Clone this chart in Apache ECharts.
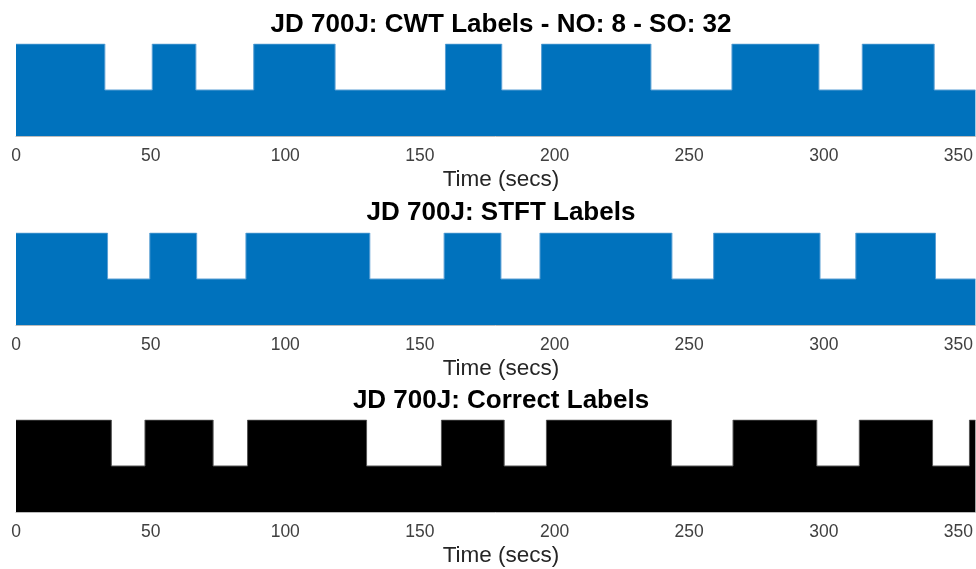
<!DOCTYPE html>
<html>
<head>
<meta charset="utf-8">
<script src="https://cdn.jsdelivr.net/npm/echarts@6/dist/echarts.min.js"></script>
<style>html,body{margin:0;padding:0;background:#fff}#c{width:976px;height:569px}</style>
</head>
<body>
<div id="c"></div>
<script>
// ---- data ----
const xMin = 0;
const xMax = 356.3;   // visible part of the time axis (axis runs past the right edge)
const xTickInterval = 50;
const titles = ["JD 700J: CWT Labels - NO: 8 - SO: 32", "JD 700J: STFT Labels", "JD 700J: Correct Labels"];
const xAxisName = "Time (secs)";
const cwtEdges = [0, 33.0, 50.6, 66.8, 88.3, 118.5, 159.5, 180.4, 195.2, 235.8, 265.9, 298.2, 314.3, 341.0];
const cwtLevels = [2, 1, 2, 1, 2, 1, 2, 1, 2, 1, 2, 1, 2, 1];
const stftEdges = [0, 34.0, 49.7, 67.1, 85.4, 131.4, 159.0, 180.1, 194.6, 243.6, 259.1, 298.6, 311.9, 341.5];
const stftLevels = [2, 1, 2, 1, 2, 1, 2, 1, 2, 1, 2, 1, 2, 1];
const correctEdges = [0, 35.4, 47.9, 73.2, 86.0, 130.2, 158.0, 181.3, 197.0, 243.4, 266.3, 297.4, 313.2, 340.4, 354.1];
const correctLevels = [2, 1, 2, 1, 2, 1, 2, 1, 2, 1, 2, 1, 2, 1, 2];

function toSteps(edges, levels) {
  const d = edges.map((x, i) => [x, levels[i]]);
  d.push([xMax, levels[levels.length - 1]]);
  return d;
}
const datasets = [toSteps(cwtEdges, cwtLevels), toSteps(stftEdges, stftLevels), toSteps(correctEdges, correctLevels)];

// ---- layout ----
const FONT = '"Liberation Sans", Arial, Helvetica, sans-serif';
const gridTops = [44, 233, 420];
const gridHeight = 92;
const titleY = [25, 213, 401];
const nameX = 501;
const fills = ['#0072BD', '#0072BD', '#000000'];
const edges = ['#5a9fd4', '#5a9fd4', '#555555'];

const chart = echarts.init(document.getElementById('c'), null, {renderer: 'canvas'});
const option = {
  animation: false,
  backgroundColor: '#ffffff',
  grid: gridTops.map(t => ({left: 16, right: 0, top: t, height: gridHeight, containLabel: false})),
  xAxis: gridTops.map((t, i) => ({
    type: 'value', gridIndex: i, min: xMin, max: xMax, interval: xTickInterval,
    name: '',
    axisLine: {show: true, lineStyle: {color: '#bbbbbb', width: 1}},
    axisTick: {show: false},
    splitLine: {show: false},
    axisLabel: {fontFamily: FONT, fontSize: 17.5, color: '#404040', margin: 11,
      showMaxLabel: false}
  })),
  yAxis: gridTops.map((t, i) => ({
    type: 'value', gridIndex: i, min: 0, max: 2, show: false
  })),
  series: datasets.map((d, i) => ({
    type: 'line', xAxisIndex: i, yAxisIndex: i, data: d, step: 'end',
    symbol: 'none', silent: true,
    lineStyle: {color: edges[i], width: 1},
    areaStyle: {color: fills[i], opacity: 1}
  })),
  graphic: titles.map((t, i) => ({
    type: 'text', x: nameX, y: titleY[i], silent: true,
    style: {text: t, fill: '#000', font: 'bold 26px ' + FONT, textAlign: 'center', textVerticalAlign: 'middle'}
  })).concat(gridTops.map(t => ({
    type: 'text', x: nameX, y: t + gridHeight + 44, silent: true,
    style: {text: xAxisName, fill: '#262626', font: '22.5px ' + FONT, textAlign: 'center', textVerticalAlign: 'middle'}
  })))
};
chart.setOption(option);
</script>
</body>
</html>
